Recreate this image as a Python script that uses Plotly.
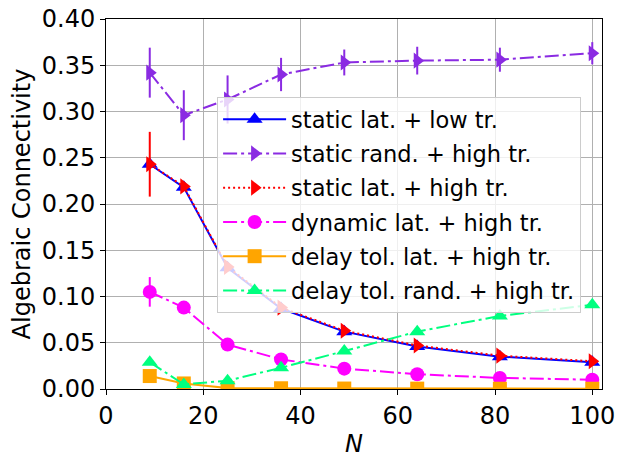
import plotly.graph_objects as go

# node counts
N = [9, 16, 25, 36, 49, 64, 81, 100]

# algebraic connectivity per setup (mean, std)
static_lat_low = [0.243, 0.218, 0.131, 0.087, 0.062, 0.046, 0.035, 0.029]
static_lat_low_err = [0.004, 0.003, 0.002, 0.002, 0.001, 0.001, 0.001, 0.001]

static_rand_high = [0.342, 0.296, 0.313, 0.340, 0.353, 0.355, 0.356, 0.363]
static_rand_high_err = [0.027, 0.027, 0.026, 0.018, 0.014, 0.015, 0.013, 0.012]

static_lat_high = [0.243, 0.219, 0.132, 0.088, 0.063, 0.047, 0.036, 0.030]
static_lat_high_err = [0.035, 0.004, 0.002, 0.002, 0.001, 0.001, 0.001, 0.001]

dynamic_lat_high = [0.105, 0.088, 0.048, 0.032, 0.022, 0.016, 0.012, 0.010]
dynamic_lat_high_err = [0.016, 0.003, 0.002, 0.001, 0.001, 0.001, 0.001, 0.001]

delay_lat_high = [0.014, 0.006, 0.001, 0.0008, 0.0005, 0.0004, 0.0003, 0.0003]
delay_lat_high_err = [0.003, 0.002, 0.0005, 0.0003, 0.0002, 0.0002, 0.0001, 0.0001]

delay_rand_high = [0.029, 0.005, 0.009, 0.023, 0.041, 0.062, 0.079, 0.091]
delay_rand_high_err = [0.003, 0.001, 0.001, 0.002, 0.002, 0.002, 0.002, 0.002]

series = [
    ("static lat. + low tr.", static_lat_low, static_lat_low_err, "blue", "solid", "triangle-up"),
    ("static rand. + high tr.", static_rand_high, static_rand_high_err, "#8A2BE2", "14px,4px,3px,4px", "triangle-right"),
    ("static lat. + high tr.", static_lat_high, static_lat_high_err, "red", "2px,3px", "triangle-right"),
    ("dynamic lat. + high tr.", dynamic_lat_high, dynamic_lat_high_err, "magenta", "14px,4px,3px,4px", "circle"),
    ("delay tol. lat. + high tr.", delay_lat_high, delay_lat_high_err, "orange", "solid", "square"),
    ("delay tol. rand. + high tr.", delay_rand_high, delay_rand_high_err, "#00FF7F", "14px,4px,3px,4px", "triangle-up"),
]

fig = go.Figure()
for name, y, err, color, dash, symbol in series:
    fig.add_trace(go.Scatter(
        x=N, y=y, name=name, mode="lines+markers",
        legendgroup=name,
        line=dict(color=color, width=2, dash=dash),
        marker=dict(color=color, symbol=symbol, size=14, line=dict(width=0)),
        error_y=dict(type="data", array=err, color=color, thickness=2, width=0),
    ))

axis_common = dict(
    showline=True, linecolor="black", linewidth=1, mirror=True,
    showgrid=True, gridcolor="#b0b0b0", gridwidth=1,
    ticks="outside", ticklen=5, tickcolor="black",
    tickfont=dict(size=24, color="black"),
    ticklabeloverflow="allow",
    zeroline=False, automargin=False,
)

# page body adds an 8px margin, so the figure is sized/offset to compensate
fig.update_layout(
    width=617, height=454,
    margin=dict(l=98, r=23, t=11, b=73),
    paper_bgcolor="white", plot_bgcolor="white",
    font=dict(family="DejaVu Sans", color="black"),
    showlegend=True,
    legend=dict(
        x=0.224, y=0.789, xanchor="left", yanchor="top",
        bgcolor="rgba(255,255,255,0.8)", bordercolor="#cccccc", borderwidth=1,
        font=dict(size=22.5), itemwidth=63,
        traceorder="grouped", tracegroupgap=2,
    ),
    xaxis=dict(axis_common, range=[0, 102], tickvals=[0, 20, 40, 60, 80, 100],
               title=dict(text="<i>N</i>", font=dict(size=24), standoff=6)),
    yaxis=dict(axis_common, range=[0, 0.40], dtick=0.05, tickformat=".2f",
               title=dict(text="Algebraic Connectivity", font=dict(size=24), standoff=8)),
)

fig.write_html("out.html")
